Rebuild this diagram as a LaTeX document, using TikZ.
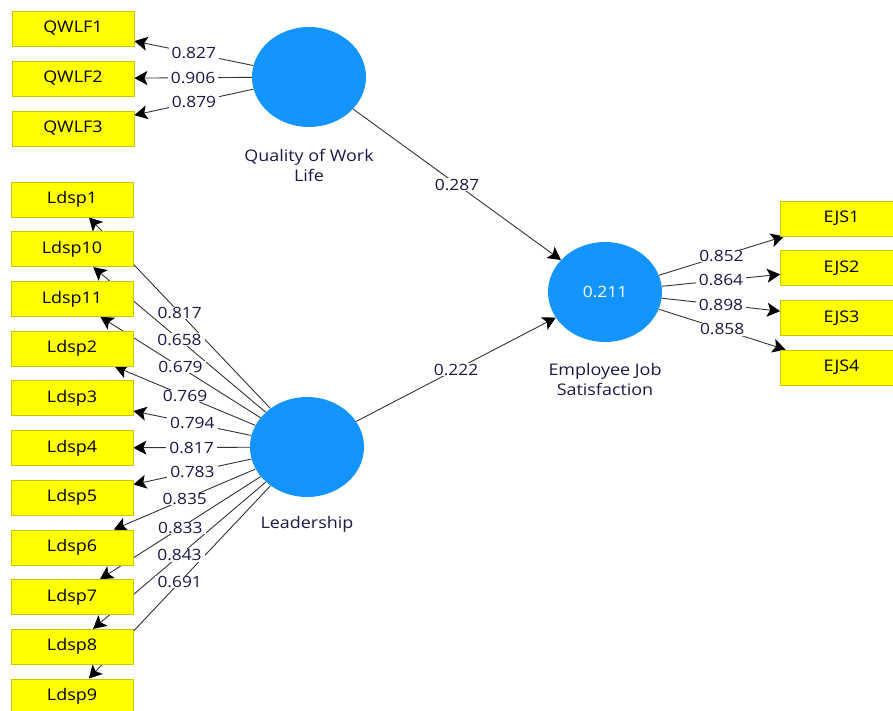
\documentclass[tikz,border=0pt]{standalone}
\usepackage{fontspec}
\setmainfont{Open Sans}[FakeStretch=1.12]
\usetikzlibrary{arrows.meta,shapes.geometric}
\pgfdeclarelayer{edges}
\pgfdeclarelayer{labels}
\pgfsetlayers{edges,labels,main}
\definecolor{boxfill}{RGB}{255,255,0}
\definecolor{boxline}{RGB}{200,200,0}
\definecolor{lvfill}{RGB}{20,148,255}
\definecolor{edgecol}{RGB}{50,50,50}
\definecolor{labcol}{RGB}{25,25,70}
\begin{document}
\begin{tikzpicture}[x=1pt,y=-1pt,
  ind/.style={draw=boxline, fill=boxfill, minimum width=122pt, minimum height=35pt, inner sep=0pt, font=\fontsize{16}{18}\selectfont, text=black, line width=0.8pt},
  lv/.style={ellipse, fill=lvfill, minimum width=114pt, minimum height=100pt, inner sep=0pt},
  lvname/.style={font=\fontsize{16}{20}\selectfont, text=labcol, align=center},
  load/.style={draw=edgecol, line width=0.9pt, -{Stealth[length=13pt,width=14pt,inset=3pt,color=black]}},
  lbl/.style={fill=white, inner xsep=3pt, inner ysep=0.5pt, text=labcol, font=\fontsize{15.5}{18}\selectfont}]
\useasboundingbox (0,0) rectangle (893,711);
% latent variables
\node[lv] (qwl) at (309,77) {};
\node[lv] (ld) at (307,447) {};
\node[lv, text=white, font=\fontsize{15.5}{18}\selectfont] (ejs) at (605,292) {0.211};
\node[lvname] (qwlname) at (309,165) {Quality of Work\\Life};
\node[lvname] (ldname) at (307,524) {Leadership};
\node[lvname] (ejsname) at (605,379) {Employee Job\\Satisfaction};
% indicators
\node[ind] (q1) at (73,28.5) {QWLF1};
\node[ind] (q2) at (73,78.5) {QWLF2};
\node[ind] (q3) at (73,128.5) {QWLF3};
\node[ind] (l1) at (72,199.5) {Ldsp1};
\node[ind] (l10) at (72,249.2) {Ldsp10};
\node[ind] (l11) at (72,298.9) {Ldsp11};
\node[ind] (l2) at (72,348.6) {Ldsp2};
\node[ind] (l3) at (72,398.3) {Ldsp3};
\node[ind] (l4) at (72,448.0) {Ldsp4};
\node[ind] (l5) at (72,497.7) {Ldsp5};
\node[ind] (l6) at (72,547.4) {Ldsp6};
\node[ind] (l7) at (72,597.1) {Ldsp7};
\node[ind] (l8) at (72,646.8) {Ldsp8};
\node[ind] (l9) at (72,696.5) {Ldsp9};
\node[ind] (e1) at (841.5,218.5) {EJS1};
\node[ind] (e2) at (841.5,268.2) {EJS2};
\node[ind] (e3) at (841.5,317.9) {EJS3};
\node[ind] (e4) at (841.5,367.6) {EJS4};
% edges
\begin{pgfonlayer}{edges}
\foreach \t/\v in {q1/0.827,q2/0.906,q3/0.879} \draw[load] (qwl) -- (\t);
\foreach \t/\v in {l1/0.817,l10/0.658,l11/0.679,l2/0.769,l3/0.794,l4/0.817,l5/0.783,l6/0.835,l7/0.833,l8/0.843,l9/0.691} \draw[load] (ld) -- (\t);
\foreach \t/\v in {e1/0.852,e2/0.864,e3/0.898,e4/0.858} \draw[load] (ejs) -- (\t);
\draw[load] (qwl) -- (ejs);
\draw[load] (ld) -- (ejs);
\end{pgfonlayer}
\begin{pgfonlayer}{labels}
\foreach \t/\v in {q1/0.827,q2/0.906,q3/0.879} \path (qwl) -- node[lbl]{\v} (\t);
\foreach \t/\v in {l1/0.817,l10/0.658,l11/0.679,l2/0.769,l3/0.794,l4/0.817,l5/0.783,l6/0.835,l7/0.833,l8/0.843,l9/0.691} \path (ld) -- node[lbl]{\v} (\t);
\foreach \t/\v in {e1/0.852,e2/0.864,e3/0.898,e4/0.858} \path (ejs) -- node[lbl]{\v} (\t);
\path (qwl) -- node[lbl]{0.287} (ejs);
\path (ld) -- node[lbl]{0.222} (ejs);
\end{pgfonlayer}
\end{tikzpicture}
\end{document}
